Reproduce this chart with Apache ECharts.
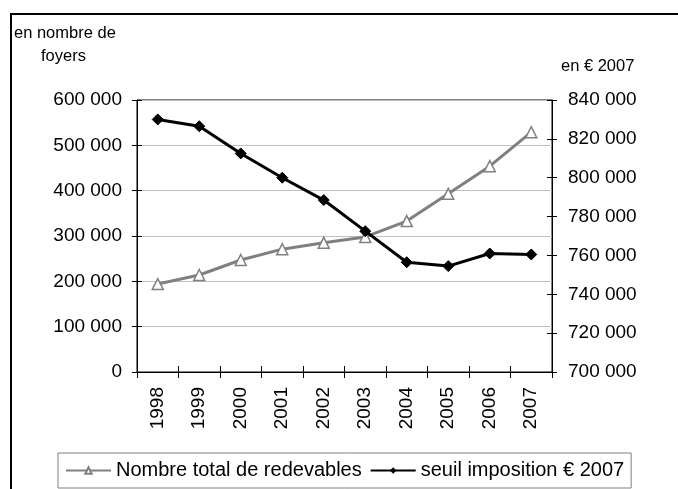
<!DOCTYPE html>
<html>
<head>
<meta charset="utf-8">
<script src="https://cdn.jsdelivr.net/npm/echarts@6/dist/echarts.min.js"></script>
<style>
  html, body { margin: 0; padding: 0; background: #fff; }
  #chart { width: 678px; height: 489px; }
</style>
</head>
<body>
<div id="chart"></div>
<script>
// années
var years = ['1998', '1999', '2000', '2001', '2002', '2003', '2004', '2005', '2006', '2007'];
// nombre total de redevables (axe gauche)
var redevables = [194000, 214000, 247000, 271000, 285000, 298000, 333000, 393000, 454000, 529000];
// seuil d'imposition en € 2007 (axe droit)
var seuil = [830000, 826500, 812500, 800000, 788500, 772500, 756500, 754500, 761000, 760500];

var nameRedevables = 'Nombre total de redevables';
var nameSeuil = 'seuil imposition € 2007';

var font = 'Liberation Sans, Arial, sans-serif';

// 600000 -> "600 000"
function fmt(v) {
  return String(v).replace(/\B(?=(\d{3})+(?!\d))/g, ' ');
}

var chart = echarts.init(document.getElementById('chart'));

var leftAxis = { min: 0, max: 600000, interval: 100000 };
var rightAxis = { min: 700000, max: 840000, interval: 20000 };

chart.setOption({
  animation: false,
  backgroundColor: '#fff',
  textStyle: { fontFamily: font },
  grid: {
    left: 137, right: 126, top: 100, bottom: 117,
    show: true, borderColor: '#000', borderWidth: 1
  },
  graphic: [
    // cadre extérieur
    {
      type: 'rect', z: -1, silent: true,
      shape: { x: 11, y: 14, width: 720, height: 520 },
      style: { fill: null, stroke: '#000', lineWidth: 2 }
    },
    { type: 'text', left: 14, top: 25, style: { text: 'en nombre de', font: '16.5px ' + font, fill: '#000' } },
    { type: 'text', left: 41, top: 48, style: { text: 'foyers', font: '16.5px ' + font, fill: '#000' } },
    { type: 'text', left: 561, top: 58, style: { text: 'en € 2007', font: '16.5px ' + font, fill: '#000' } }
  ],
  legend: {
    left: 58, top: 453,
    padding: [7, 7, 7, 7],
    itemWidth: 45, itemHeight: 8, itemGap: 8,
    borderColor: '#808080', borderWidth: 1,
    textStyle: { fontSize: 20, color: '#000', fontFamily: font, lineHeight: 21 },
    data: [nameRedevables, nameSeuil]
  },
  xAxis: [
    {
      type: 'category', data: years, boundaryGap: true,
      axisLine: { lineStyle: { color: '#000', width: 1 } },
      axisTick: { show: true, length: 6, lineStyle: { color: '#000' } },
      axisLabel: { rotate: 90, fontSize: 19, color: '#000', margin: 15, fontFamily: font }
    },
    {
      // ticks intérieurs (traits qui croisent l'axe)
      type: 'category', data: years, boundaryGap: true, position: 'bottom',
      axisLine: { show: false },
      axisTick: { show: true, inside: true, length: 6, lineStyle: { color: '#000' } },
      axisLabel: { show: false }
    }
  ],
  yAxis: [
    {
      type: 'value', position: 'left',
      min: leftAxis.min, max: leftAxis.max, interval: leftAxis.interval,
      axisLine: { show: true, lineStyle: { color: '#000' } },
      axisTick: { show: true, length: 5, lineStyle: { color: '#000' } },
      splitLine: { show: true, lineStyle: { color: '#c0c0c0', width: 1 } },
      axisLabel: { fontSize: 19, color: '#000', margin: 15, formatter: fmt, fontFamily: font }
    },
    {
      type: 'value', position: 'right',
      min: rightAxis.min, max: rightAxis.max, interval: rightAxis.interval,
      axisLine: { show: true, lineStyle: { color: '#000' } },
      axisTick: { show: true, length: 5, lineStyle: { color: '#000' } },
      splitLine: { show: false },
      axisLabel: { fontSize: 19, color: '#000', margin: 16, formatter: fmt, fontFamily: font }
    },
    {
      type: 'value', position: 'left',
      min: leftAxis.min, max: leftAxis.max, interval: leftAxis.interval,
      axisLine: { show: false },
      axisTick: { show: true, inside: true, length: 5, lineStyle: { color: '#000' } },
      splitLine: { show: false },
      axisLabel: { show: false }
    },
    {
      type: 'value', position: 'right',
      min: rightAxis.min, max: rightAxis.max, interval: rightAxis.interval,
      axisLine: { show: false },
      axisTick: { show: true, inside: true, length: 5, lineStyle: { color: '#000' } },
      splitLine: { show: false },
      axisLabel: { show: false }
    }
  ],
  series: [
    {
      name: nameRedevables, type: 'line', yAxisIndex: 0,
      data: redevables,
      symbol: 'triangle', symbolSize: 11,
      lineStyle: { color: '#808080', width: 3 },
      itemStyle: { color: '#fff', borderColor: '#808080', borderWidth: 1.5 },
      z: 2
    },
    {
      name: nameSeuil, type: 'line', yAxisIndex: 1,
      data: seuil,
      symbol: 'diamond', symbolSize: 11,
      lineStyle: { color: '#000', width: 3 },
      itemStyle: { color: '#000', borderColor: '#000' },
      z: 3
    }
  ]
});
</script>
</body>
</html>
